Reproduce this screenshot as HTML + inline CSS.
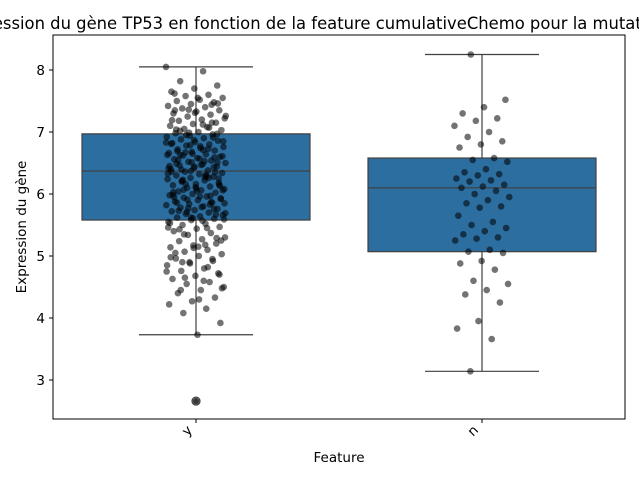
<!DOCTYPE html>
<html><head><meta charset="utf-8"><style>
html,body{margin:0;padding:0;background:#fff;overflow:hidden}
svg{display:block;font-family:"DejaVu Sans","Liberation Sans",sans-serif}
</style></head><body>
<svg id="chart" width="639" height="479" viewBox="0 0 639 479">
<text x="-44" y="29" font-size="16.4" fill="#000">Expression du gène TP53 en fonction de la feature cumulativeChemo pour la mutation</text>
<g id="plot"></g>
</svg>
<script>
const categories = ["y","n"];
const boxStats = [
  {q1:5.58, med:6.37, q3:6.97, lo:3.73, hi:8.05, outliers:[2.66]},
  {q1:5.07, med:6.10, q3:6.58, lo:3.14, hi:8.25, outliers:[]}
];
const yTicks = [3,4,5,6,7,8];
const pointsY = [8.05,7.98,7.82,7.75,7.7,7.65,7.6,7.58,7.55,7.52,7.5,7.48,7.45,7.42,7.4,7.38,7.35,7.33,7.3,7.28,7.25,7.22,7.2,7.18,7.15,7.13,7.1,7.08,7.05,7.03,7.0,6.98,6.96,6.94,6.92,6.9,6.88,6.86,6.84,6.82,6.8,6.78,6.76,6.74,6.72,6.7,6.68,6.66,6.64,6.62,6.6,6.58,6.56,6.54,6.52,6.5,6.48,6.46,6.44,6.42,6.4,6.38,6.36,6.34,6.32,6.3,6.28,6.26,6.24,6.22,6.2,6.18,6.16,6.14,6.12,6.1,6.08,6.06,6.04,6.02,6.0,5.98,5.96,5.94,5.92,5.9,5.88,5.86,5.84,5.82,5.8,5.78,5.76,5.74,5.72,5.7,5.68,5.66,5.64,5.62,5.6,5.58,5.55,5.52,5.5,5.47,5.44,5.4,5.37,5.34,5.3,5.27,5.24,5.2,5.17,5.14,5.1,5.07,5.03,5.0,4.96,4.92,4.88,4.85,4.8,4.76,4.72,4.68,4.63,4.58,4.55,4.5,4.45,4.4,4.33,4.27,4.22,4.15,4.08,3.92,3.73,
 7.62,7.44,7.36,7.26,7.12,7.02,6.97,6.87,6.81,6.73,6.67,6.61,6.57,6.49,6.43,6.37,6.33,6.27,6.21,6.15,6.09,6.03,5.97,5.91,5.85,5.79,5.73,5.67,5.61,5.53,5.45,5.35,5.25,5.15,5.05,4.95,4.9,4.75,4.6,4.45,
 7.46,7.31,7.19,7.07,6.95,6.85,6.77,6.69,6.59,6.51,6.41,6.31,6.23,6.13,6.05,5.95,5.87,5.77,5.69,5.57,5.43,5.29,5.13,4.98,4.82,4.65,4.48,4.3,
 7.04,6.91,6.79,6.63,6.53,6.39,6.25,6.11,5.99,5.83,5.71,5.59,6.47,6.55,6.35,6.65,6.45,6.29,6.07,5.93,
 7.55,7.35,7.15,6.99,6.83,6.71,6.63,6.51,6.44,6.36,6.26,6.16,6.06,5.96,5.86,5.76,5.62,5.46,5.18,4.9,4.7];
const pointsN = [8.25,7.52,7.4,7.3,7.22,7.18,7.1,7.0,6.92,6.85,6.8,6.75,6.58,6.55,6.52,6.4,6.35,6.32,6.3,6.25,6.22,6.2,6.15,6.12,6.1,6.05,6.0,5.95,5.9,5.85,5.8,5.78,5.65,5.55,5.5,5.45,5.4,5.35,5.3,5.28,5.25,5.1,5.07,5.05,4.92,4.88,4.78,4.6,4.55,4.45,4.38,4.25,3.95,3.83,3.66,3.14];
const seriesPoints = [pointsY, pointsN];

const NS="http://www.w3.org/2000/svg";
const plot=document.getElementById('plot');
const L=53,R=625,T=35,B=419;
const yScale=v=>70+(8-v)*62;
const xCenter=i=>L+(R-L)*(i+0.5)/categories.length;
const bw=228;
function mk(tag,attrs,parent){const e=document.createElementNS(NS,tag);for(const k in attrs)e.setAttribute(k,attrs[k]);(parent||plot).appendChild(e);return e;}

boxStats.forEach((s,i)=>{
  const cx=xCenter(i);
  const g=mk('g',{});
  
  
  const st={stroke:'#3f3f3f','stroke-width':1.2};
  mk('line',Object.assign({x1:cx,x2:cx,y1:yScale(s.hi),y2:yScale(s.q3)},st),g);
  mk('line',Object.assign({x1:cx,x2:cx,y1:yScale(s.q1),y2:yScale(s.lo)},st),g);
  mk('line',Object.assign({x1:cx-57,x2:cx+57,y1:yScale(s.hi),y2:yScale(s.hi)},st),g);
  mk('line',Object.assign({x1:cx-57,x2:cx+57,y1:yScale(s.lo),y2:yScale(s.lo)},st),g);
  mk('rect',Object.assign({x:cx-bw/2,y:yScale(s.q3),width:bw,height:yScale(s.q1)-yScale(s.q3),fill:'#2c6e9f'},st),g);
  mk('line',Object.assign({x1:cx-bw/2,x2:cx+bw/2,y1:yScale(s.med),y2:yScale(s.med)},st),g);
  s.outliers.forEach(o=>{
    const c=mk('circle',{cx:cx,cy:yScale(o),r:4,fill:'#3f3f3f','fill-opacity':0.6,stroke:'#3f3f3f','stroke-width':1.2},g);
    
    
    const d=mk('circle',{cx:cx,cy:yScale(o),r:3,fill:'#000','fill-opacity':0.6},g);
    
    
  });
});
seriesPoints.forEach((arr,i)=>{
  const cx=xCenter(i);
  const spread = i===0?30:28;
  const g=mk('g',{});
  
  
  arr.forEach((v,k)=>{
    const j=((k*0.618034+i*0.3)%1)*2-1;
    const c=mk('circle',{cx:cx+j*spread,cy:yScale(v),r:3.3,fill:'#000','fill-opacity':0.55},g);
    
    
  });
});
const fr=mk('rect',{x:L,y:T,width:R-L,height:B-T,fill:'none',stroke:'#000','stroke-width':1});


yTicks.forEach(t=>{
  const y=yScale(t);
  mk('line',{x1:L-4,x2:L,y1:y,y2:y,stroke:'#000'});
  const tx=mk('text',{x:L-8,y:y+5,'text-anchor':'end','font-size':13.5});
  tx.textContent=t;
  
  
});
categories.forEach((c,i)=>{
  const x=xCenter(i);
  mk('line',{x1:x,x2:x,y1:B,y2:B+4,stroke:'#000'});
  const tx=mk('text',{x:x-3,y:B+12,'text-anchor':'end','font-size':13.5,transform:`rotate(-45 ${x-3} ${B+12})`});
  tx.textContent=c;
  
  
});
const xt=mk('text',{x:(L+R)/2,y:462,'text-anchor':'middle','font-size':13.5});
xt.textContent='Feature';


const yt=mk('text',{x:26,y:(T+B)/2,'text-anchor':'middle','font-size':13.5,transform:`rotate(-90 26 ${(T+B)/2})`});
yt.textContent='Expression du gène';


</script>
</body></html>
